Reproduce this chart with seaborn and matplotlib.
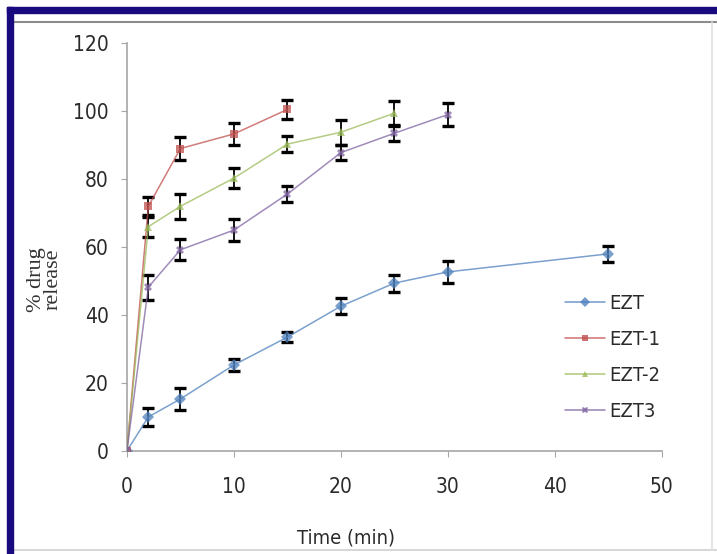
import numpy as np
import pandas as pd
import matplotlib
matplotlib.use("Agg")
import matplotlib.pyplot as plt
import seaborn as sns
from matplotlib.patches import Rectangle
from matplotlib.lines import Line2D

# Datos
tiempo_ezt = [0, 2, 5, 10, 15, 20, 25, 30, 45]
ezt = [0, 10.0, 15.3, 25.3, 33.5, 42.6, 49.4, 52.7, 58.0]
ezt_err = [0, 2.6, 3.1, 1.9, 1.5, 2.3, 2.5, 3.2, 2.4]

tiempo_ezt1 = [0, 2, 5, 10, 15]
ezt1 = [0, 72.0, 89.0, 93.3, 100.5]
ezt1_err = [0, 2.6, 3.3, 3.2, 2.8]

tiempo_ezt2 = [0, 2, 5, 10, 15, 20, 25]
ezt2 = [0, 66.0, 72.0, 80.3, 90.3, 93.8, 99.4]
ezt2_err = [0, 3.0, 3.7, 3.0, 2.3, 3.7, 3.7]

tiempo_ezt3 = [0, 2, 5, 10, 15, 20, 25, 30]
ezt3 = [0, 48.2, 59.2, 65.0, 75.6, 87.8, 93.5, 99.0]
ezt3_err = [0, 3.7, 3.1, 3.2, 2.3, 2.3, 2.4, 3.5]

series = ["EZT", "EZT-1", "EZT-2", "EZT3"]
colores = ["#4F81BD", "#C0504D", "#9BBB59", "#8064A2"]
marcadores = ["D", "s", "^", "X"]

datos = {
    "EZT": (tiempo_ezt, ezt, ezt_err),
    "EZT-1": (tiempo_ezt1, ezt1, ezt1_err),
    "EZT-2": (tiempo_ezt2, ezt2, ezt2_err),
    "EZT3": (tiempo_ezt3, ezt3, ezt3_err),
}

df = pd.concat(
    [pd.DataFrame({"Tiempo": t, "Liberacion": v, "Error": e, "Serie": s})
     for s, (t, v, e) in datos.items()],
    ignore_index=True,
)

sns.set_style("white")
plt.rcParams["font.family"] = ["DejaVu Sans"]
plt.rcParams["font.stretch"] = "condensed"

fig = plt.figure(figsize=(7.17, 5.54), dpi=100)
ax = fig.add_axes([0.177, 0.186, 0.746, 0.736])

# errores primero, lineas encima
for s in series:
    t, v, e = datos[s]
    ax.errorbar(t[1:], v[1:], yerr=e[1:], fmt="none", ecolor="black",
                elinewidth=1.3, capsize=4.5, capthick=2.4, zorder=2)

sns.lineplot(data=df, x="Tiempo", y="Liberacion", hue="Serie", style="Serie",
             hue_order=series, style_order=series, palette=colores,
             markers=marcadores, dashes=False, markersize=6, linewidth=1.1,
             markeredgewidth=0, alpha=0.75, legend=False, ax=ax, zorder=3)

ax.set_xlim(0, 50)
ax.set_ylim(0, 120)
ax.set_xticks(range(0, 51, 10))
ax.set_yticks(range(0, 121, 20))
for lado in ["top", "right"]:
    ax.spines[lado].set_visible(False)
for lado in ["left", "bottom"]:
    ax.spines[lado].set_color("#A6A6A6")
    ax.spines[lado].set_linewidth(1.2)
ax.tick_params(axis="both", which="major", labelsize=15, length=4,
               color="#A6A6A6", labelcolor="#2A2A2A")
ax.tick_params(axis="x", pad=15, bottom=True)
ax.tick_params(axis="y", pad=9, left=True)

ax.set_xlabel("Time (min)", fontsize=14.5, color="#2A2A2A")
ax.xaxis.set_label_coords(0.41, -0.19)
ax.set_ylabel("% drug\nrelease", fontsize=16, color="#333333",
              family="Liberation Serif", linespacing=0.85)
ax.yaxis.set_label_coords(-0.12, 0.42)

manejadores = [Line2D([0], [0], color=c, marker=m, markersize=5,
                      markeredgewidth=0, linewidth=1.1, alpha=0.8)
               for c, m in zip(colores, marcadores)]
ax.legend(manejadores, series, loc="upper left", bbox_to_anchor=(0.785, 0.43),
          frameon=False, fontsize=14.5, labelspacing=0.85, handlelength=2.0,
          handletextpad=0.2, labelcolor="#2A2A2A")

# marco azul y lineas grises del recorte
fig.add_artist(Rectangle((7 / 717, 0), 6 / 717, 1 - 7 / 554,
                         transform=fig.transFigure, color="#1A0A80", zorder=10))
fig.add_artist(Rectangle((7 / 717, 1 - 13 / 554), 1 - 7 / 717, 6 / 554,
                         transform=fig.transFigure, color="#1A0A80", zorder=10))
fig.add_artist(Line2D([13 / 717, 1], [1 - 22 / 554, 1 - 22 / 554],
                      transform=fig.transFigure, color="#8C8C8C", linewidth=1.5))
fig.add_artist(Line2D([13 / 717, 1], [4 / 554, 4 / 554],
                      transform=fig.transFigure, color="#D0D0D0", linewidth=1.2))
fig.add_artist(Line2D([712 / 717, 712 / 717], [4 / 554, 1 - 22 / 554],
                      transform=fig.transFigure, color="#E0E0E0", linewidth=1.2))

fig.savefig("out.png", dpi=100)
